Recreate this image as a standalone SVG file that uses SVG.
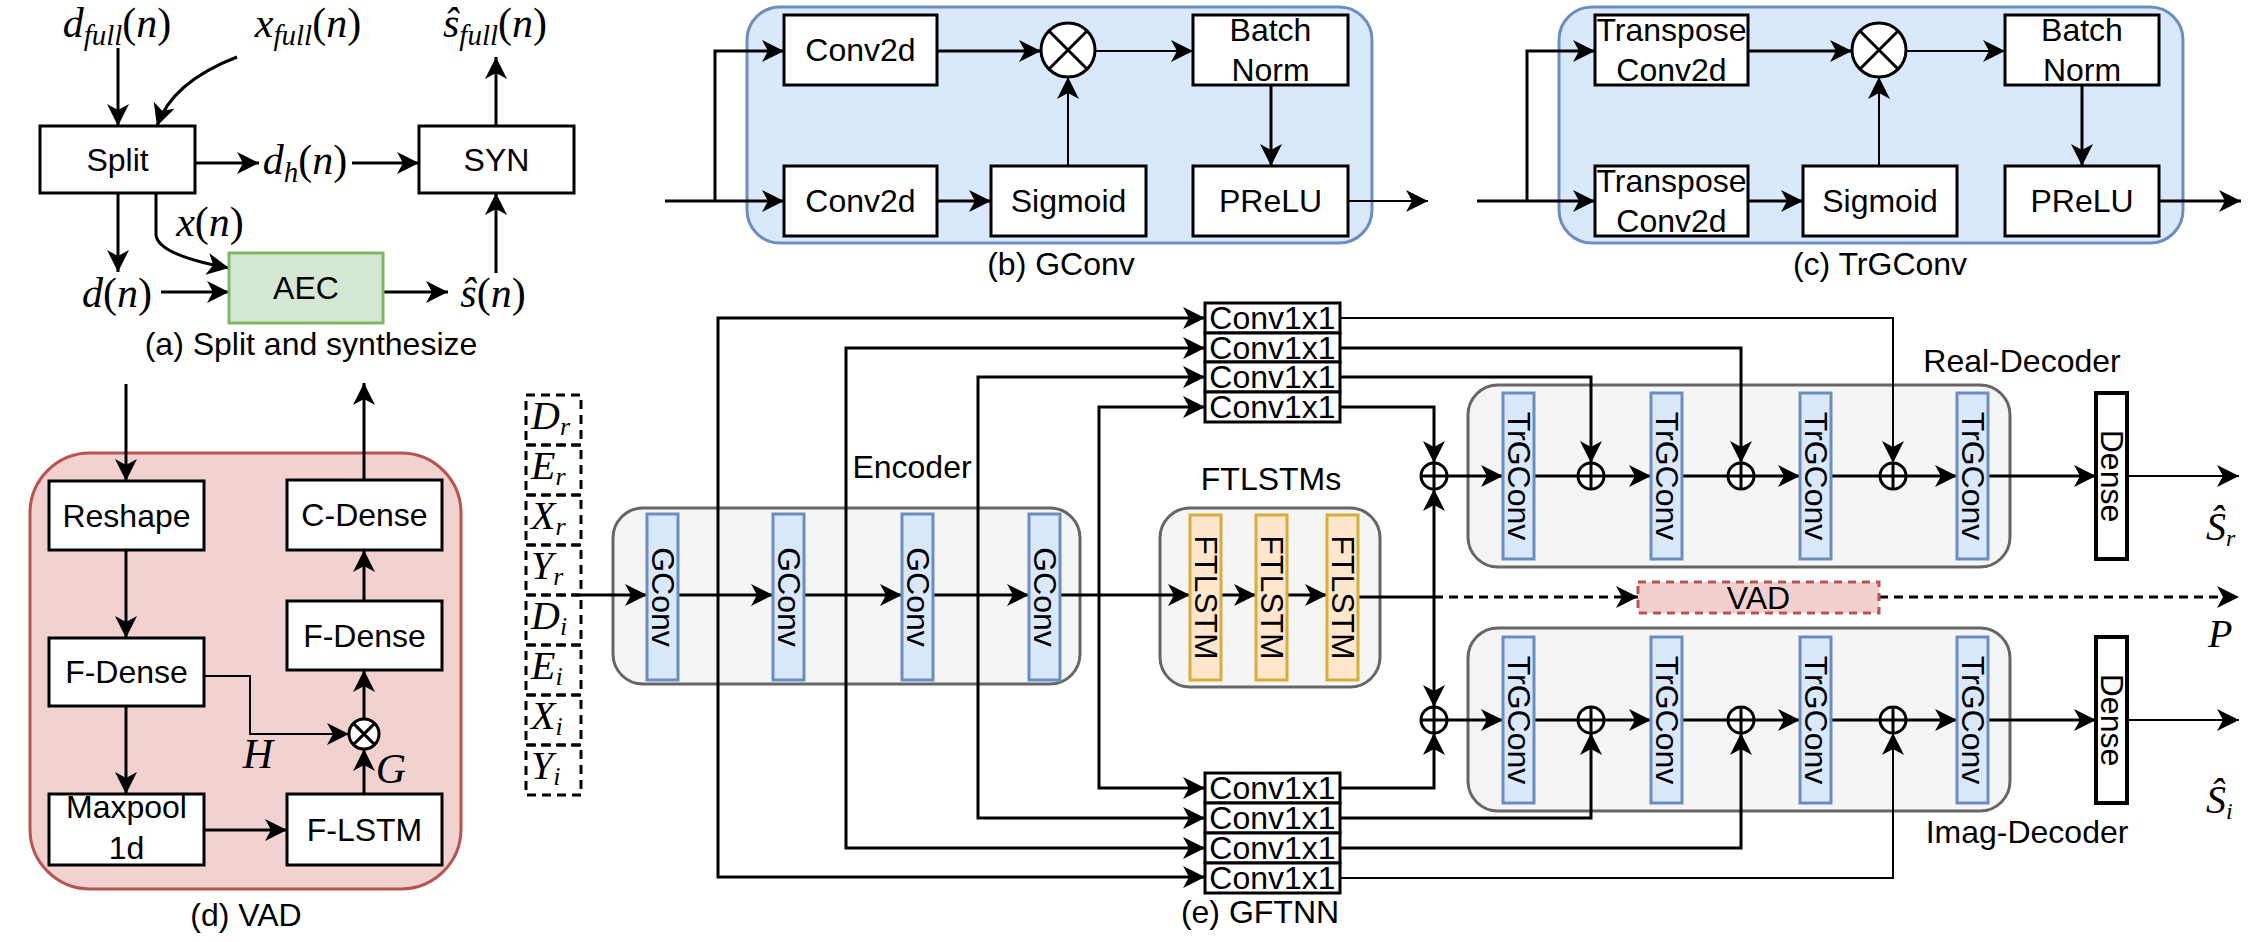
<svg xmlns="http://www.w3.org/2000/svg" width="2257" height="942" viewBox="0 0 2257 942">
<style>
.b{fill:#fff;stroke:#000;stroke-width:3}
.t{font-family:"Liberation Sans",Arial,sans-serif;font-size:32px;fill:#000;text-anchor:middle}
.m{font-family:"Liberation Serif","Times New Roman",serif;font-style:italic;font-size:42px;fill:#000;text-anchor:middle}
.ms{font-family:"Liberation Serif","Times New Roman",serif;font-style:italic;font-size:40px;fill:#000}
.u{font-style:normal}
.c{fill:none;stroke:#000;stroke-width:3}
.th{stroke-width:2}
.a{marker-end:url(#ah)}
.blue{fill:#dae8fc;stroke:#6c8ebf;stroke-width:3}
.grey{fill:#f5f5f5;stroke:#666;stroke-width:3}
.orange{fill:#ffe6cc;stroke:#d6ae3c;stroke-width:3}
.dash{fill:none;stroke:#000;stroke-width:3;stroke-dasharray:9 6}
</style>
<defs>
<marker id="ah" markerUnits="userSpaceOnUse" markerWidth="24" markerHeight="24" viewBox="0 0 24 24" refX="22" refY="12" orient="auto"><path d="M0,1 L22,12 L0,23 L6,12 z" fill="#000"/></marker>
<g id="otimes1"><circle cx="0" cy="0" r="15" fill="#fff" stroke="#000" stroke-width="3"/><path d="M-10.6,-10.6 L10.6,10.6 M-10.6,10.6 L10.6,-10.6" stroke="#000" stroke-width="3"/></g>
<g id="otimes2"><circle cx="0" cy="0" r="27" fill="#fff" stroke="#000" stroke-width="3"/><path d="M-19,-19 L19,19 M-19,19 L19,-19" stroke="#000" stroke-width="3"/></g>
<g id="oplus"><circle cx="0" cy="0" r="13" fill="#fff" stroke="#000" stroke-width="3"/><path d="M-13,0 L13,0 M0,-13 L0,13" stroke="#000" stroke-width="3"/></g>
</defs>
<rect width="2257" height="942" fill="#fff"/>

<!-- (a) Split and synthesize -->
<g id="a-connectors">
<path class="c a" d="M118,48 L118,126"/>
<path class="c a" d="M237,57 Q172,82 157,126"/>
<path class="c a" d="M195,163 L259,163"/>
<path class="c a" d="M352,163 L419,163"/>
<path class="c a" d="M496,126 L496,57"/>
<path class="c a" d="M118,193 L118,272"/>
<path class="c a" d="M156,193 L156,235 Q158,255 229,268"/>
<path class="c a" d="M161,292 L229,292"/>
<path class="c a" d="M383,292 L448,292"/>
<path class="c a" d="M496,273 L496,193"/>
</g>
<g id="split"><rect class="b" x="40" y="126" width="155" height="67"/><text class="t" x="117.5" y="171">Split</text></g>
<g id="syn"><rect class="b" x="419" y="126" width="155" height="67"/><text class="t" x="496.5" y="171">SYN</text></g>
<g id="aec"><rect x="229" y="253" width="154" height="70" fill="#d5e8d4" stroke="#82b366" stroke-width="3"/><text class="t" x="306" y="299">AEC</text></g>
<g id="a-labels">
<text class="m" x="117" y="37">d<tspan font-size="29" dy="8">full</tspan><tspan class="u" dy="-8">(</tspan>n<tspan class="u">)</tspan></text>
<text class="m" x="308" y="37">x<tspan font-size="29" dy="8">full</tspan><tspan class="u" dy="-8">(</tspan>n<tspan class="u">)</tspan></text>
<text class="m" x="495" y="37">ŝ<tspan font-size="29" dy="8">full</tspan><tspan class="u" dy="-8">(</tspan>n<tspan class="u">)</tspan></text>
<text class="m" x="305" y="174">d<tspan font-size="29" dy="8">h</tspan><tspan class="u" dy="-8">(</tspan>n<tspan class="u">)</tspan></text>
<text class="m" x="210" y="236">x<tspan class="u">(</tspan>n<tspan class="u">)</tspan></text>
<text class="m" x="117" y="307">d<tspan class="u">(</tspan>n<tspan class="u">)</tspan></text>
<text class="m" x="493" y="307">ŝ<tspan class="u">(</tspan>n<tspan class="u">)</tspan></text>
<text class="t" x="311" y="355">(a) Split and synthesize</text>
</g>

<!-- (d) VAD -->
<g id="vad-container"><rect x="30" y="453" width="431" height="436" rx="60" fill="#f2d2d0" stroke="#b85450" stroke-width="3"/></g>
<g id="d-connectors">
<path class="c a" d="M126,384 L126,481"/>
<path class="c a" d="M126,550 L126,638"/>
<path class="c a" d="M126,706 L126,794"/>
<path class="c a" d="M204,830 L287,830"/>
<path class="c a" d="M364,794 L364,749"/>
<path class="c th a" d="M204,676 L250,676 L250,734 L349,734"/>
<path class="c a" d="M364,719 L364,670"/>
<path class="c a" d="M364,601 L364,550"/>
<path class="c a" d="M364,480 L364,383"/>
</g>
<g id="reshape"><rect class="b" x="49" y="481" width="155" height="69"/><text class="t" x="126.5" y="527">Reshape</text></g>
<g id="fdense1"><rect class="b" x="49" y="638" width="155" height="68"/><text class="t" x="126.5" y="683">F-Dense</text></g>
<g id="maxpool"><rect class="b" x="49" y="794" width="155" height="71"/><text class="t" x="126.5" y="818">Maxpool</text><text class="t" x="126.5" y="859">1d</text></g>
<g id="flstm"><rect class="b" x="287" y="794" width="155" height="71"/><text class="t" x="364.5" y="841">F-LSTM</text></g>
<g id="fdense2"><rect class="b" x="287" y="601" width="155" height="69"/><text class="t" x="364.5" y="647">F-Dense</text></g>
<g id="cdense"><rect class="b" x="287" y="480" width="155" height="70"/><text class="t" x="364.5" y="526">C-Dense</text></g>
<g id="vad-mul"><use href="#otimes1" x="364" y="734"/></g>
<g id="d-labels">
<text class="m" x="258" y="768">H</text>
<text class="m" x="391" y="783">G</text>
<text class="t" x="246" y="926">(d) VAD</text>
</g>

<!-- (b) GConv -->
<g id="gconv-container"><rect class="blue" x="747" y="7" width="625" height="236" rx="33"/></g>
<g id="b-connectors">
<path class="c a" d="M665,201 L784,201"/>
<path class="c a" d="M715,201 L715,51 L784,51"/>
<path class="c a" d="M937,51 L1041,51"/>
<path class="c th a" d="M1095,51 L1193,51"/>
<path class="c a" d="M937,201 L991,201"/>
<path class="c th a" d="M1068,166 L1068,77"/>
<path class="c a" d="M1271,85 L1271,166"/>
<path class="c th a" d="M1348,201 L1428,201"/>
</g>
<g id="b-conv1"><rect class="b" x="784" y="15" width="153" height="70"/><text class="t" x="860.5" y="61">Conv2d</text></g>
<g id="b-conv2"><rect class="b" x="784" y="166" width="153" height="70"/><text class="t" x="860.5" y="212">Conv2d</text></g>
<g id="b-sigmoid"><rect class="b" x="991" y="166" width="155" height="70"/><text class="t" x="1068.5" y="212">Sigmoid</text></g>
<g id="b-mul"><use href="#otimes2" x="1068" y="50"/></g>
<g id="b-bn"><rect class="b" x="1193" y="15" width="155" height="70"/><text class="t" x="1270.5" y="41">Batch</text><text class="t" x="1270.5" y="81">Norm</text></g>
<g id="b-prelu"><rect class="b" x="1193" y="166" width="155" height="70"/><text class="t" x="1270.5" y="212">PReLU</text></g>
<text class="t" x="1061" y="275">(b) GConv</text>

<!-- (c) TrGConv -->
<g id="trgconv-container"><rect class="blue" x="1559" y="7" width="624" height="236" rx="33"/></g>
<g id="c-connectors">
<path class="c a" d="M1477,201 L1595,201"/>
<path class="c a" d="M1527,201 L1527,51 L1595,51"/>
<path class="c a" d="M1748,51 L1852,51"/>
<path class="c th a" d="M1906,51 L2005,51"/>
<path class="c a" d="M1748,201 L1803,201"/>
<path class="c th a" d="M1879,166 L1879,77"/>
<path class="c a" d="M2082,85 L2082,166"/>
<path class="c a" d="M2159,201 L2241,201"/>
</g>
<g id="c-tconv1"><rect class="b" x="1595" y="15" width="153" height="70"/><text class="t" x="1671.5" y="41">Transpose</text><text class="t" x="1671.5" y="81">Conv2d</text></g>
<g id="c-tconv2"><rect class="b" x="1595" y="166" width="153" height="70"/><text class="t" x="1671.5" y="192">Transpose</text><text class="t" x="1671.5" y="232">Conv2d</text></g>
<g id="c-sigmoid"><rect class="b" x="1803" y="166" width="154" height="70"/><text class="t" x="1880" y="212">Sigmoid</text></g>
<g id="c-mul"><use href="#otimes2" x="1879" y="50"/></g>
<g id="c-bn"><rect class="b" x="2005" y="15" width="154" height="70"/><text class="t" x="2082" y="41">Batch</text><text class="t" x="2082" y="81">Norm</text></g>
<g id="c-prelu"><rect class="b" x="2005" y="166" width="154" height="70"/><text class="t" x="2082" y="212">PReLU</text></g>
<text class="t" x="1880" y="275">(c) TrGConv</text>

<!-- (e) GFTNN -->
<g id="inputs">
<rect class="dash" x="526" y="395" width="55" height="50"/>
<rect class="dash" x="526" y="445" width="55" height="50"/>
<rect class="dash" x="526" y="495" width="55" height="50"/>
<rect class="dash" x="526" y="545" width="55" height="50"/>
<rect class="dash" x="526" y="595" width="55" height="50"/>
<rect class="dash" x="526" y="645" width="55" height="50"/>
<rect class="dash" x="526" y="695" width="55" height="50"/>
<rect class="dash" x="526" y="745" width="55" height="50"/>
<text class="ms" x="531" y="429">D<tspan font-size="26" dy="6">r</tspan></text>
<text class="ms" x="531" y="479">E<tspan font-size="26" dy="6">r</tspan></text>
<text class="ms" x="531" y="529">X<tspan font-size="26" dy="6">r</tspan></text>
<text class="ms" x="531" y="579">Y<tspan font-size="26" dy="6">r</tspan></text>
<text class="ms" x="531" y="629">D<tspan font-size="26" dy="6">i</tspan></text>
<text class="ms" x="531" y="679">E<tspan font-size="26" dy="6">i</tspan></text>
<text class="ms" x="531" y="729">X<tspan font-size="26" dy="6">i</tspan></text>
<text class="ms" x="531" y="779">Y<tspan font-size="26" dy="6">i</tspan></text>
</g>
<g id="encoder"><rect class="grey" x="613" y="508" width="467" height="176" rx="30"/>
<text class="t" x="912" y="478">Encoder</text></g>
<g id="ftlstms"><rect class="grey" x="1160" y="508" width="220" height="179" rx="30"/>
<text class="t" x="1271" y="490">FTLSTMs</text></g>
<g id="real-decoder"><rect class="grey" x="1468" y="385" width="542" height="182" rx="30"/>
<text class="t" x="2022" y="372">Real-Decoder</text></g>
<g id="imag-decoder"><rect class="grey" x="1468" y="628" width="542" height="183" rx="30"/>
<text class="t" x="2027" y="843">Imag-Decoder</text></g>

<g id="e-connectors">
<path class="c a" d="M581,595 L647,595"/>
<path class="c a" d="M678,595 L773,595"/>
<path class="c a" d="M805,595 L902,595"/>
<path class="c a" d="M932,595 L1029,595"/>
<path class="c a" d="M1059,595 L1190,595"/>
<path class="c a" d="M1221,595 L1256,595"/>
<path class="c a" d="M1287,595 L1327,595"/>
<path class="c" d="M1358,597 L1434,597"/>
<path class="dash a" d="M1434,597 L1638,597"/>
<path class="dash a" d="M1879,597 L2239,597"/>
<path class="c a" d="M718,595 L718,318 L1205,318"/>
<path class="c a" d="M718,595 L718,877 L1205,877"/>
<path class="c a" d="M846,595 L846,348 L1205,348"/>
<path class="c a" d="M846,595 L846,848 L1205,848"/>
<path class="c a" d="M978,595 L978,377 L1205,377"/>
<path class="c a" d="M978,595 L978,818 L1205,818"/>
<path class="c a" d="M1099,595 L1099,407 L1205,407"/>
<path class="c a" d="M1099,595 L1099,788 L1205,788"/>
<path class="c a" d="M1434,597 L1434,489"/>
<path class="c a" d="M1434,597 L1434,707"/>
<path class="c th a" d="M1340,318 L1893,318 L1893,463"/>
<path class="c a" d="M1340,348 L1741,348 L1741,463"/>
<path class="c a" d="M1340,377 L1591,377 L1591,463"/>
<path class="c a" d="M1340,407 L1434,407 L1434,463"/>
<path class="c a" d="M1340,788 L1434,788 L1434,733"/>
<path class="c a" d="M1340,818 L1591,818 L1591,733"/>
<path class="c a" d="M1340,848 L1741,848 L1741,733"/>
<path class="c th a" d="M1340,878 L1893,878 L1893,733"/>
<path class="c a" d="M1447,476 L1503,476"/>
<path class="c" d="M1534,476 L1578,476"/>
<path class="c a" d="M1604,476 L1651,476"/>
<path class="c" d="M1682,476 L1728,476"/>
<path class="c a" d="M1754,476 L1800,476"/>
<path class="c" d="M1831,476 L1880,476"/>
<path class="c a" d="M1906,476 L1957,476"/>
<path class="c a" d="M1988,476 L2096,476"/>
<path class="c th a" d="M2127,476 L2239,476"/>
<path class="c a" d="M1447,720 L1503,720"/>
<path class="c" d="M1534,720 L1578,720"/>
<path class="c a" d="M1604,720 L1651,720"/>
<path class="c" d="M1682,720 L1728,720"/>
<path class="c a" d="M1754,720 L1800,720"/>
<path class="c" d="M1831,720 L1880,720"/>
<path class="c a" d="M1906,720 L1957,720"/>
<path class="c a" d="M1988,720 L2096,720"/>
<path class="c th a" d="M2127,720 L2239,720"/>
</g>

<g id="gconv-1"><rect class="blue" x="647" y="514" width="31" height="166"/><text class="t" transform="translate(662.5,597) rotate(90)" x="0" y="11">GConv</text></g>
<g id="gconv-2"><rect class="blue" x="773" y="514" width="31" height="166"/><text class="t" transform="translate(788.5,597) rotate(90)" x="0" y="11">GConv</text></g>
<g id="gconv-3"><rect class="blue" x="902" y="514" width="31" height="166"/><text class="t" transform="translate(917.5,597) rotate(90)" x="0" y="11">GConv</text></g>
<g id="gconv-4"><rect class="blue" x="1029" y="514" width="31" height="166"/><text class="t" transform="translate(1044.5,597) rotate(90)" x="0" y="11">GConv</text></g>
<g id="ftlstm-1"><rect class="orange" x="1190" y="515" width="31" height="165"/><text class="t" transform="translate(1205.5,597.5) rotate(90)" x="0" y="11">FTLSTM</text></g>
<g id="ftlstm-2"><rect class="orange" x="1256" y="515" width="31" height="165"/><text class="t" transform="translate(1271.5,597.5) rotate(90)" x="0" y="11">FTLSTM</text></g>
<g id="ftlstm-3"><rect class="orange" x="1327" y="515" width="31" height="165"/><text class="t" transform="translate(1342.5,597.5) rotate(90)" x="0" y="11">FTLSTM</text></g>

<g id="conv1x1-top">
<rect class="b" x="1205" y="303" width="135" height="30"/><text class="t" x="1272.5" y="329">Conv1x1</text>
<rect class="b" x="1205" y="333" width="135" height="29"/><text class="t" x="1272.5" y="359">Conv1x1</text>
<rect class="b" x="1205" y="362" width="135" height="30"/><text class="t" x="1272.5" y="388">Conv1x1</text>
<rect class="b" x="1205" y="392" width="135" height="30"/><text class="t" x="1272.5" y="418">Conv1x1</text>
</g>
<g id="conv1x1-bottom">
<rect class="b" x="1205" y="773" width="135" height="30"/><text class="t" x="1272.5" y="799">Conv1x1</text>
<rect class="b" x="1205" y="803" width="135" height="30"/><text class="t" x="1272.5" y="829">Conv1x1</text>
<rect class="b" x="1205" y="833" width="135" height="30"/><text class="t" x="1272.5" y="859">Conv1x1</text>
<rect class="b" x="1205" y="863" width="135" height="30"/><text class="t" x="1272.5" y="889">Conv1x1</text>
</g>

<g id="real-trgconv">
<rect class="blue" x="1503" y="393" width="31" height="166"/><text class="t" transform="translate(1518.5,476) rotate(90)" x="0" y="11">TrGConv</text>
<rect class="blue" x="1651" y="393" width="31" height="166"/><text class="t" transform="translate(1666.5,476) rotate(90)" x="0" y="11">TrGConv</text>
<rect class="blue" x="1800" y="393" width="31" height="166"/><text class="t" transform="translate(1815.5,476) rotate(90)" x="0" y="11">TrGConv</text>
<rect class="blue" x="1957" y="393" width="31" height="166"/><text class="t" transform="translate(1972.5,476) rotate(90)" x="0" y="11">TrGConv</text>
</g>
<g id="imag-trgconv">
<rect class="blue" x="1503" y="637" width="31" height="166"/><text class="t" transform="translate(1518.5,720) rotate(90)" x="0" y="11">TrGConv</text>
<rect class="blue" x="1651" y="637" width="31" height="166"/><text class="t" transform="translate(1666.5,720) rotate(90)" x="0" y="11">TrGConv</text>
<rect class="blue" x="1800" y="637" width="31" height="166"/><text class="t" transform="translate(1815.5,720) rotate(90)" x="0" y="11">TrGConv</text>
<rect class="blue" x="1957" y="637" width="31" height="166"/><text class="t" transform="translate(1972.5,720) rotate(90)" x="0" y="11">TrGConv</text>
</g>
<g id="dense-real"><rect x="2096" y="393" width="31" height="166" fill="#fff" stroke="#000" stroke-width="4"/><text class="t" transform="translate(2111.5,476) rotate(90)" x="0" y="11">Dense</text></g>
<g id="dense-imag"><rect x="2096" y="637" width="31" height="166" fill="#fff" stroke="#000" stroke-width="4"/><text class="t" transform="translate(2111.5,720) rotate(90)" x="0" y="11">Dense</text></g>

<g id="adders">
<use href="#oplus" x="1434" y="476"/><use href="#oplus" x="1591" y="476"/><use href="#oplus" x="1741" y="476"/><use href="#oplus" x="1893" y="476"/>
<use href="#oplus" x="1434" y="720"/><use href="#oplus" x="1591" y="720"/><use href="#oplus" x="1741" y="720"/><use href="#oplus" x="1893" y="720"/>
</g>
<g id="vad-block"><rect x="1638" y="582" width="241" height="31" fill="#f2d0cf" stroke="#b85450" stroke-width="3" stroke-dasharray="8 6"/><text class="t" x="1758.5" y="609">VAD</text></g>
<g id="outputs">
<text class="ms" x="2206" y="540" font-size="32">Ŝ<tspan font-size="24" dy="6">r</tspan></text>
<text class="ms" x="2208" y="647" font-size="36">P</text>
<text class="ms" x="2206" y="813" font-size="32">Ŝ<tspan font-size="24" dy="6">i</tspan></text>
</g>
<text class="t" x="1260" y="923">(e) GFTNN</text>
</svg>
